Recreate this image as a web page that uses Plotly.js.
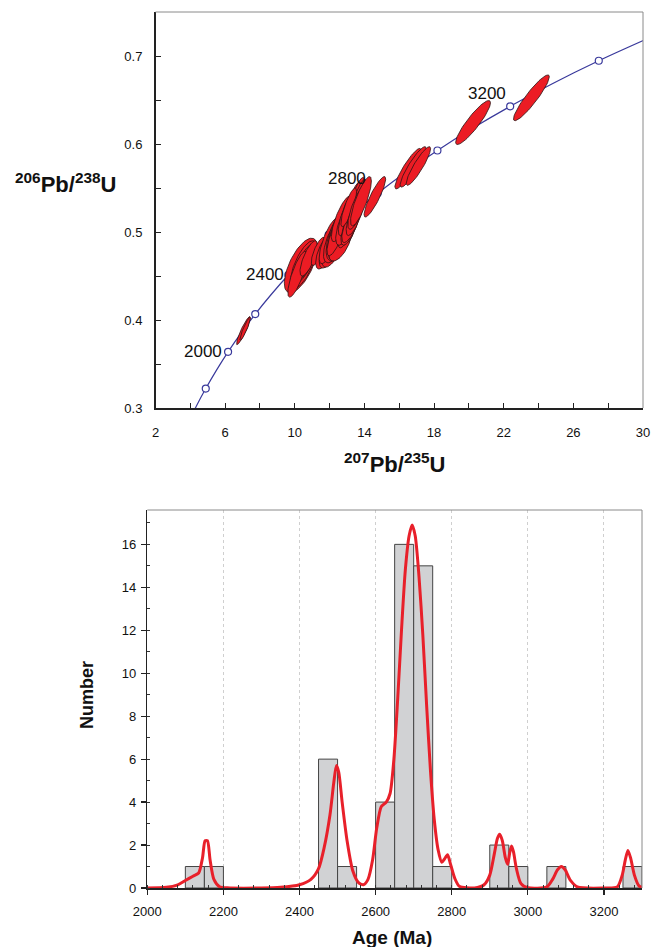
<!DOCTYPE html>
<html><head><meta charset="utf-8">
<script src="https://cdn.plot.ly/plotly-3.0.1.min.js"></script>
<style>html,body{margin:0;padding:0;background:#fff}#chart{width:652px;height:947px}</style>
</head><body><div id="chart"></div>
<script>
// ---- Concordia reference curve (age in Ma, 207Pb/235U, 206Pb/238U) ----
const concAge = [1600,1700,1800,1900,2000,2100,2200,2300,2400,2500,2600,2700,2800,2900,3000,3100,3200,3300,3400,3500];
const concX   = [3.8344,4.3348,4.8869,5.4961,6.1685,6.9105,7.7292,8.6326,9.6295,10.7297,11.9438,13.2834,14.7617,16.3929,18.1930,20.1795,22.3716,24.7904,27.4600,30.4056];
const concY   = [0.2817,0.3018,0.3221,0.3428,0.3638,0.3851,0.4067,0.4287,0.4511,0.4738,0.4968,0.5202,0.5440,0.5681,0.5926,0.6175,0.6428,0.6685,0.6946,0.7210];
const markerAges = [1800,2000,2200,2400,2600,2800,3000,3200,3400];
const labelAges  = [2000,2400,2800,3200];

// ---- Analyses: ellipse centres, 2-sigma half widths, error correlation ----
const ellX   = [7.05,7.15, 10.35,10.5,10.6,10.7,10.15,10.8,11.35,
  11.75,12.1,12.3,12.0, 12.5,12.6,12.7,12.55,12.8,12.65,12.9,12.45,12.75,12.85,13.0,12.6,12.95,13.05,12.35,12.7,
  13.1,13.2,13.3,13.0,13.4,13.15,13.25,13.5,13.35,13.55,13.7,13.1,13.45,13.6,13.8,
  14.6, 16.5,16.8,17.1, 20.24, 23.59];
const ellY   = [0.388,0.390, 0.462,0.463,0.465,0.466,0.452,0.470,0.478,
  0.478,0.484,0.488,0.490, 0.495,0.497,0.500,0.490,0.503,0.505,0.505,0.500,0.494,0.510,0.512,0.487,0.500,0.507,0.495,0.515,
  0.515,0.520,0.523,0.520,0.525,0.505,0.510,0.530,0.535,0.540,0.542,0.528,0.518,0.528,0.535,
  0.540, 0.572,0.574,0.575, 0.6244, 0.6525];
const ellSx  = [0.40,0.30, 0.95,0.75,0.60,0.45,0.55,0.50,0.40,
  0.55,0.70,0.75,0.60, 0.85,0.70,0.90,0.60,0.65,0.75,0.80,0.55,0.50,0.55,0.70,0.65,0.45,0.50,0.50,0.60,
  0.75,0.60,0.55,0.50,0.60,0.50,0.55,0.50,0.45,0.45,0.40,0.45,0.50,0.55,0.60,
  0.62, 0.75,0.75,0.70, 1.00, 1.03];
const ellSy  = [0.016,0.013, 0.031,0.027,0.022,0.018,0.026,0.020,0.016,
  0.020,0.025,0.028,0.026, 0.030,0.026,0.033,0.022,0.024,0.030,0.030,0.025,0.020,0.024,0.028,0.020,0.018,0.020,0.022,0.026,
  0.030,0.026,0.025,0.024,0.028,0.020,0.022,0.024,0.022,0.022,0.018,0.022,0.022,0.025,0.028,
  0.023, 0.023,0.023,0.022, 0.025, 0.026];
const ellRho = [0.92,0.92, 0.65,0.70,0.75,0.75,0.80,0.75,0.75,
  0.65,0.70,0.70,0.75, 0.70,0.72,0.65,0.70,0.75,0.75,0.70,0.78,0.70,0.75,0.72,0.60,0.75,0.75,0.75,0.78,
  0.75,0.75,0.78,0.78,0.78,0.70,0.75,0.82,0.82,0.82,0.82,0.82,0.75,0.78,0.82,
  0.88, 0.90,0.90,0.90, 0.90, 0.92];

// ---- Histogram (50 Ma bins) ----
const binStart = [2100,2150,2450,2500,2600,2650,2700,2750,2900,2950,3050,3250];
const binCount = [1,1,6,1,4,16,15,1,2,1,1,1];
const binWidth = 50;

// ---- Probability density curve ----
const pdfAge = [2000,2050,2080,2100,2120,2135,2145,2152,2158,2165,2175,2190,2210,2300,2350,2400,2430,2450,2465,2480,2490,2497,2503,2512,2525,2540,2555,2568,2580,2592,2603,2615,2628,2638,2648,2658,2668,2678,2688,2696,2704,2714,2724,2734,2744,2754,2764,2774,2781,2789,2797,2808,2820,2860,2885,2900,2912,2920,2926,2933,2941,2947,2952,2957,2962,2970,2982,3000,3050,3065,3078,3088,3098,3112,3130,3200,3235,3248,3256,3263,3270,3280,3292,3300];
const pdfVal = [0,0.03,0.15,0.35,0.55,0.7,1.4,2.2,2.2,1.3,0.4,0.06,0.01,0,0.03,0.15,0.4,0.9,1.9,3.4,4.9,5.7,5.4,4.0,2.2,0.8,0.25,0.15,0.4,1.3,2.8,3.8,4.0,4.4,6.0,8.8,12.0,14.8,16.4,16.9,16.4,14.5,11.8,8.5,5.5,3.2,1.8,1.2,1.35,1.55,1.1,0.45,0.08,0,0.15,0.6,1.6,2.3,2.5,2.2,1.4,1.1,1.6,1.95,1.7,0.9,0.2,0.01,0.05,0.4,0.85,1.0,0.85,0.35,0.05,0,0.05,0.6,1.3,1.75,1.4,0.6,0.1,0.03];

const FONT = 'Liberation Sans, Arial, Helvetica, sans-serif';
const BLUE = '#3a3a9c';
const traces = [];

// concordia line
traces.push({type:'scatter', mode:'lines', x:concX, y:concY, xaxis:'x', yaxis:'y',
  line:{color:BLUE, width:1.2, shape:'spline'}, hoverinfo:'skip'});
// concordia age markers
const mIdx = markerAges.map(a => concAge.indexOf(a));
traces.push({type:'scatter', mode:'markers', x:mIdx.map(i=>concX[i]), y:mIdx.map(i=>concY[i]),
  xaxis:'x', yaxis:'y', marker:{symbol:'circle', size:7, color:'#fff', line:{color:BLUE, width:1.2}}});
// ellipses
for (let k=0;k<ellX.length;k++){
  const xs=[], ys=[]; const q=Math.sqrt(1-ellRho[k]*ellRho[k]);
  for (let j=0;j<=72;j++){ const t=2*Math.PI*j/72;
    xs.push(ellX[k]+ellSx[k]*Math.cos(t));
    ys.push(ellY[k]+ellSy[k]*(ellRho[k]*Math.cos(t)+q*Math.sin(t))); }
  traces.push({type:'scatter', mode:'lines', x:xs, y:ys, xaxis:'x', yaxis:'y', fill:'toself',
    fillcolor:'#ec1c24', line:{color:'#2b1414', width:0.8}, hoverinfo:'skip'});
}
// histogram bars
traces.push({type:'bar', x:binStart.map(b=>b+binWidth/2), y:binCount, width:binStart.map(()=>binWidth),
  xaxis:'x2', yaxis:'y2', marker:{color:'#d1d2d4', line:{color:'#444', width:1}}});
// pdf curve
traces.push({type:'scatter', mode:'lines', x:pdfAge, y:pdfVal, xaxis:'x2', yaxis:'y2',
  line:{color:'#e8202a', width:3, shape:'spline', smoothing:0.7}});

// age labels
const ageLabelShift = {2000:[-4,0], 2400:[-2,1], 2800:[-10,15], 3200:[-2,13]};
const annotations = labelAges.map(a => { const i = concAge.indexOf(a); return {
  x:concX[i], y:concY[i], xref:'x', yref:'y', text:String(a), showarrow:false,
  xanchor:'right', yanchor:'middle', xshift:ageLabelShift[a][0], yshift:ageLabelShift[a][1],
  font:{family:FONT, size:17, color:'#111'} }; });

annotations.push({xref:'paper', yref:'paper', x:395/652, y:1-463/947, text:'<b><sup>207</sup>Pb/<sup>235</sup>U</b>',
  showarrow:false, xanchor:'center', yanchor:'middle', font:{family:FONT, size:22, color:'#111'}});
annotations.push({xref:'paper', yref:'paper', x:66/652, y:1-183/947, text:'<b><sup>206</sup>Pb/<sup>238</sup>U</b>',
  showarrow:false, xanchor:'center', yanchor:'middle', font:{family:FONT, size:22, color:'#111'}});
annotations.push({xref:'paper', yref:'paper', x:392/652, y:1-937/947, text:'<b>Age (Ma)</b>',
  showarrow:false, xanchor:'center', yanchor:'middle', font:{family:FONT, size:19, color:'#111'}});
annotations.push({xref:'paper', yref:'paper', x:87/652, y:1-695/947, text:'<b>Number</b>', textangle:-90,
  showarrow:false, xanchor:'center', yanchor:'middle', font:{family:FONT, size:18, color:'#111'}});

const tX = [155.5/652, 643/652], tY = [1-408/947, 1-12/947];
const bX = [147.3/652, 642/652], bY = [1-888/947, 1-510/947];
const border = (x0,y0,x1,y1)=>({type:'line', xref:'paper', yref:'paper', x0, y0, x1, y1, line:{color:'#8a8a8a', width:1}});
const shapes = [
  border(tX[0],tY[1],tX[1],tY[1]), border(tX[1],tY[0],tX[1],tY[1]),
  border(bX[0],bY[1],bX[1],bY[1]), border(bX[1],bY[0],bX[1],bY[1])
];

const tickfont = {family:FONT, size:13, color:'#111'};
const layout = {
  width:652, height:947, margin:{l:0,r:0,t:0,b:0}, showlegend:false,
  paper_bgcolor:'#fff', plot_bgcolor:'#fff', font:{family:FONT},
  xaxis:{domain:tX, anchor:'y', range:[2,30], tick0:2, dtick:4, ticks:'inside', ticklen:5, tickwidth:1, tickcolor:'#222',
    minor:{dtick:2, ticks:'inside', ticklen:5, tickwidth:1, tickcolor:'#222'},
    showline:true, linecolor:'#222', linewidth:1.5, showgrid:false, zeroline:false, tickfont, ticklabelstandoff:12},
  yaxis:{domain:tY, anchor:'x', range:[0.3,0.75], tick0:0.3, dtick:0.1, tickformat:'.1f', ticks:'inside', ticklen:5, tickwidth:1, tickcolor:'#222',
    minor:{dtick:0.05, ticks:'inside', ticklen:5, tickwidth:1, tickcolor:'#222'},
    showline:true, linecolor:'#222', linewidth:1.5, showgrid:false, zeroline:false, tickfont, ticklabelstandoff:9},
  xaxis2:{domain:bX, anchor:'y2', range:[2000,3300], tick0:2000, dtick:200, ticks:'outside', ticklen:5, tickwidth:1.2, tickcolor:'#222',
    minor:{dtick:40, ticks:'inside', ticklen:3, tickwidth:1, tickcolor:'#333'},
    showline:true, linecolor:'#222', linewidth:1.5, showgrid:true, gridcolor:'#cfcfcf', griddash:'dot', gridwidth:1,
    zeroline:false, tickfont, ticklabelstandoff:6},
  yaxis2:{domain:bY, anchor:'x2', range:[0,17.6], tick0:0, dtick:2, ticks:'outside', ticklen:5, tickwidth:1.2, tickcolor:'#222',
    minor:{dtick:1, ticks:'inside', ticklen:3, tickwidth:1, tickcolor:'#333'},
    showline:true, linecolor:'#222', linewidth:1.5, showgrid:false, zeroline:false, tickfont, ticklabelstandoff:2},
  annotations, shapes
};
Plotly.newPlot('chart', traces, layout, {staticPlot:true, displayModeBar:false});
</script></body></html>
